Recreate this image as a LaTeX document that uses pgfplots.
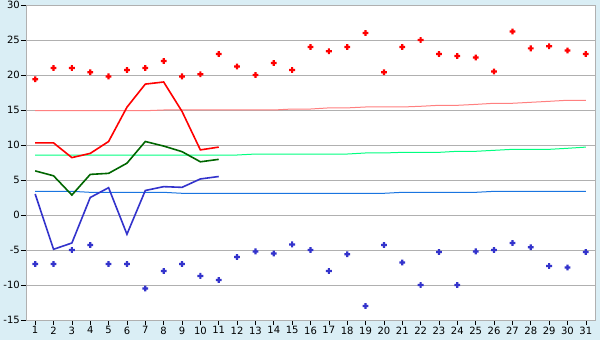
\documentclass[border=0pt]{standalone}
\usepackage{pgfplots}
\pgfplotsset{compat=1.18}
\usepackage{fontspec}
\setmainfont{DejaVu Sans}
\definecolor{bgc}{HTML}{DAEEF5}
\definecolor{gridc}{HTML}{B0B0B0}
\definecolor{maxred}{HTML}{FF0000}
\definecolor{normred}{HTML}{FF8080}
\definecolor{dkgreen}{HTML}{006600}
\definecolor{normgreen}{HTML}{00FF80}
\definecolor{minblue}{HTML}{3333CC}
\definecolor{normblue}{HTML}{1A75E0}
\pgfdeclareplotmark{fatplus}{%
  \pgfpathmoveto{\pgfpoint{0.38\pgfplotmarksize}{\pgfplotmarksize}}%
  \pgfpathlineto{\pgfpoint{0.38\pgfplotmarksize}{0.38\pgfplotmarksize}}%
  \pgfpathlineto{\pgfpoint{\pgfplotmarksize}{0.38\pgfplotmarksize}}%
  \pgfpathlineto{\pgfpoint{\pgfplotmarksize}{-0.38\pgfplotmarksize}}%
  \pgfpathlineto{\pgfpoint{0.38\pgfplotmarksize}{-0.38\pgfplotmarksize}}%
  \pgfpathlineto{\pgfpoint{0.38\pgfplotmarksize}{-\pgfplotmarksize}}%
  \pgfpathlineto{\pgfpoint{-0.38\pgfplotmarksize}{-\pgfplotmarksize}}%
  \pgfpathlineto{\pgfpoint{-0.38\pgfplotmarksize}{-0.38\pgfplotmarksize}}%
  \pgfpathlineto{\pgfpoint{-\pgfplotmarksize}{-0.38\pgfplotmarksize}}%
  \pgfpathlineto{\pgfpoint{-\pgfplotmarksize}{0.38\pgfplotmarksize}}%
  \pgfpathlineto{\pgfpoint{-0.38\pgfplotmarksize}{0.38\pgfplotmarksize}}%
  \pgfpathlineto{\pgfpoint{-0.38\pgfplotmarksize}{\pgfplotmarksize}}%
  \pgfpathclose
  \pgfusepathqfill}
\begin{document}
\begin{tikzpicture}
\path[use as bounding box, fill=bgc] (0,0) rectangle (600bp,340bp);
\begin{axis}[
  at={(26bp,20bp)}, anchor=south west,
  scale only axis, width=569bp, height=315bp,
  xmin=0.5, xmax=31.5, ymin=-15, ymax=30,
  xtick={1,...,31}, ytick={-15,-10,...,30},
  axis background/.style={fill=white},
  axis line style={gridc, line width=0.8bp},
  ymajorgrids, grid style={gridc, line width=0.8bp},
  tick align=outside, major tick length=5bp,
  tick style={black, line width=0.6bp},
  xtick pos=bottom, ytick pos=left,
  font=\fontsize{10bp}{12bp}\selectfont,
  /pgf/number format/assume math mode=true,
  yticklabel style={inner sep=1bp},
  xticklabel style={inner sep=1.5bp},
  clip=true,
]
% normals
\addplot[normred, line width=1bp, mark=none] coordinates {
(1,14.9)(2,14.9)(3,14.9)(4,14.9)(5,14.9)(6,14.9)(7,14.9)(8,15.0)(9,15.0)(10,15.0)
(11,15.0)(12,15.0)(13,15.0)(14,15.0)(15,15.14)(16,15.14)(17,15.3)(18,15.3)(19,15.43)(20,15.43)
(21,15.43)(22,15.53)(23,15.67)(24,15.67)(25,15.8)(26,15.96)(27,15.96)(28,16.1)(29,16.24)(30,16.39)(31,16.39)};
\addplot[normgreen, line width=1bp, mark=none] coordinates {
(1,8.57)(2,8.57)(3,8.57)(4,8.57)(5,8.57)(6,8.57)(7,8.57)(8,8.57)(9,8.57)(10,8.57)
(11,8.57)(12,8.57)(13,8.71)(14,8.71)(15,8.71)(16,8.71)(17,8.71)(18,8.71)(19,8.86)(20,8.86)
(21,8.95)(22,8.95)(23,8.95)(24,9.1)(25,9.1)(26,9.24)(27,9.38)(28,9.38)(29,9.38)(30,9.53)(31,9.7)};
\addplot[normblue, line width=1bp, mark=none] coordinates {
(1,3.38)(2,3.38)(3,3.38)(4,3.24)(5,3.24)(6,3.24)(7,3.24)(8,3.24)(9,3.1)(10,3.1)
(11,3.1)(12,3.1)(13,3.1)(14,3.1)(15,3.1)(16,3.1)(17,3.1)(18,3.1)(19,3.1)(20,3.1)
(21,3.24)(22,3.24)(23,3.24)(24,3.24)(25,3.24)(26,3.38)(27,3.38)(28,3.38)(29,3.38)(30,3.38)(31,3.38)};
% daily lines
\addplot[maxred, line width=1.6bp, mark=none] coordinates {
(1,10.3)(2,10.3)(3,8.2)(4,8.8)(5,10.5)(6,15.4)(7,18.7)(8,19.0)(9,14.8)(10,9.3)(11,9.7)};
\addplot[dkgreen, line width=1.6bp, mark=none] coordinates {
(1,6.3)(2,5.6)(3,2.85)(4,5.8)(5,5.95)(6,7.4)(7,10.5)(8,9.85)(9,9.05)(10,7.6)(11,7.95)};
\addplot[minblue, line width=1.6bp, mark=none] coordinates {
(1,3.0)(2,-4.9)(3,-4.0)(4,2.5)(5,3.9)(6,-2.75)(7,3.5)(8,4.05)(9,3.95)(10,5.15)(11,5.5)};
% extremes
\addplot[only marks, mark=fatplus, mark size=2.9bp, color=maxred] coordinates {
(1,19.4)(2,21)(3,21)(4,20.4)(5,19.8)(6,20.7)(7,21)(8,22)(9,19.8)(10,20.1)
(11,23)(12,21.2)(13,20)(14,21.7)(15,20.7)(16,24)(17,23.4)(18,24)(19,26)(20,20.4)
(21,24)(22,25)(23,23)(24,22.7)(25,22.5)(26,20.5)(27,26.2)(28,23.8)(29,24.1)(30,23.5)(31,23)};
\addplot[only marks, mark=fatplus, mark size=2.9bp, color=minblue] coordinates {
(1,-7)(2,-7)(3,-5)(4,-4.3)(5,-7)(6,-7)(7,-10.5)(8,-8)(9,-7)(10,-8.7)
(11,-9.3)(12,-6)(13,-5.2)(14,-5.5)(15,-4.2)(16,-5)(17,-8)(18,-5.6)(19,-13)(20,-4.3)
(21,-6.8)(22,-10)(23,-5.3)(24,-10)(25,-5.2)(26,-5)(27,-4)(28,-4.6)(29,-7.3)(30,-7.5)(31,-5.3)};
\end{axis}
\end{tikzpicture}
\end{document}
